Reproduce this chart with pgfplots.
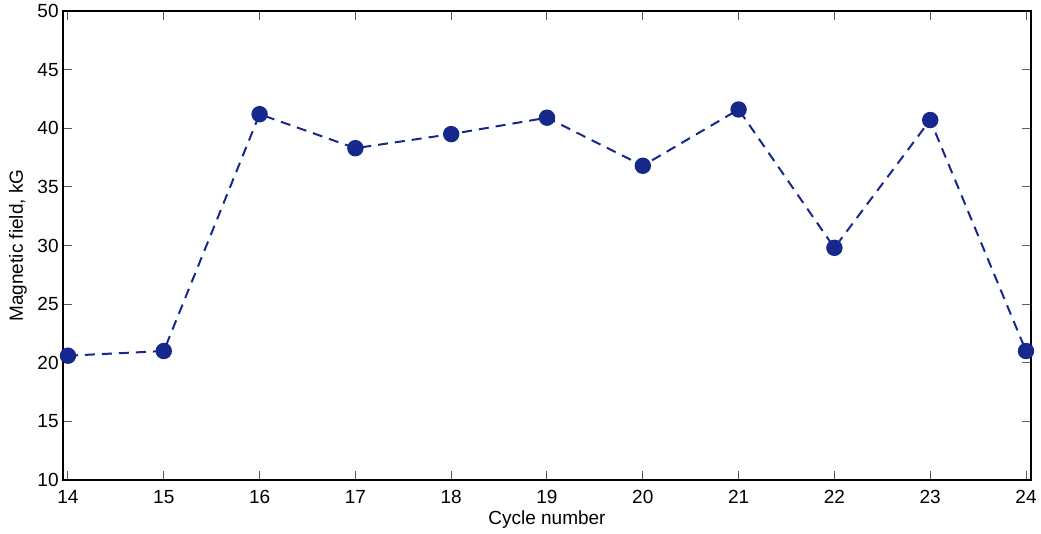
\documentclass[border=0pt]{standalone}
\usepackage{fontspec}
\setmainfont{Liberation Sans}
\usepackage{pgfplots}
\pgfplotsset{compat=1.18}
\definecolor{ptblue}{RGB}{22,40,140}
\begin{document}
\fontsize{9.5}{11}\selectfont
\begin{tikzpicture}
\begin{axis}[
  scale only axis,
  width=484pt, height=234.5pt,
  xmin=13.948, xmax=24.052,
  ymin=10, ymax=50,
  xtick={14,15,...,24},
  ytick={10,15,...,50},
  tick align=inside,
  major tick length=4.5pt,
  every tick/.style={black!65, line width=0.5pt},
  axis line style={black, line width=0.7pt},
  /pgf/number format/assume math mode=true,
  tick label style={font=\fontsize{9.5}{11}\selectfont},
  xticklabel style={inner sep=1.5pt, yshift=-3.5pt},
  yticklabel style={inner sep=2pt},
  label style={font=\fontsize{9.5}{11}\selectfont},
  xlabel={Cycle number},
  ylabel={Magnetic field, kG},
  every axis x label/.style={at={([yshift=-20pt]axis description cs:0.5,0)}, anchor=center},
  every axis y label/.style={at={([xshift=-22.5pt]axis description cs:0,0.5)}, rotate=90, anchor=center},
  clip=false,
]
\addplot[color=ptblue, line width=1pt, dash pattern=on 5pt off 3.5pt,
  mark=*, mark size=3.6pt, mark options={solid, fill=ptblue, draw=ptblue}]
coordinates {
(14,20.6) (15,21.0) (16,41.2) (17,38.3) (18,39.5) (19,40.9)
(20,36.8) (21,41.6) (22,29.8) (23,40.7) (24,21.0)
};
\end{axis}
\pgfresetboundingbox
\path[use as bounding box] (-31.5pt,-27pt) rectangle (489pt,240pt);
\end{tikzpicture}
\end{document}
